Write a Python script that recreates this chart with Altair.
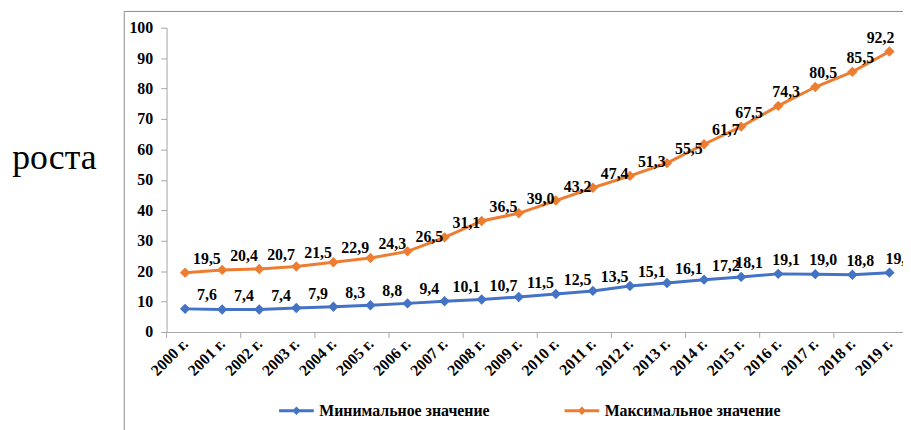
import json
import altair as alt
import pandas as pd

years = ["2000 г.", "2001 г.", "2002 г.", "2003 г.", "2004 г.", "2005 г.", "2006 г.",
         "2007 г.", "2008 г.", "2009 г.", "2010 г.", "2011 г.", "2012 г.", "2013 г.",
         "2014 г.", "2015 г.", "2016 г.", "2017 г.", "2018 г.", "2019 г."]
min_values = [7.6, 7.4, 7.4, 7.9, 8.3, 8.8, 9.4, 10.1, 10.7, 11.5, 12.5, 13.5, 15.1,
              16.1, 17.2, 18.1, 19.1, 19.0, 18.8, 19.5]
max_values = [19.5, 20.4, 20.7, 21.5, 22.9, 24.3, 26.5, 31.1, 36.5, 39.0, 43.2, 47.4,
              51.3, 55.5, 61.7, 67.5, 74.3, 80.5, 85.5, 92.2]
series_names = ["Минимальное значение", "Максимальное значение"]
series_colors = ["#4472C4", "#ED7D31"]
y_ticks = [0, 10, 20, 30, 40, 50, 60, 70, 80, 90, 100]
boundary_ticks = [-0.5, 1.5, 3.5, 5.5, 7.5, 9.5, 11.5, 13.5, 15.5, 17.5, 19.5]
side_text = ["роста"]

FONT = "Liberation Serif"
AXIS_GREY = "#a6a6a6"

rows = []
for s, (name, vals) in enumerate(zip(series_names, [min_values, max_values])):
    for i, (yr, v) in enumerate(zip(years, vals)):
        rows.append({"idx": i, "s": s, "year": yr, "series": name, "value": v,
                     "label": f"{v:.1f}".replace(".", ",")})
df = pd.DataFrame(rows)

x_scale = alt.Scale(domain=[-0.5, 19.5], range=[0, 748], nice=False, zero=False)
x_axis = alt.Axis(
    values=list(range(len(years))),
    labelExpr=f"{json.dumps(years, ensure_ascii=False)}[datum.value]",
    labelAngle=-45, labelAlign="right", labelBaseline="middle",
    labelPadding=9, ticks=False, grid=False, domain=True, domainColor=AXIS_GREY,
    labelFont=FONT, labelFontSize=16, labelFontWeight="bold", labelColor="black",
    labelOverlap=False, labelFlush=False, labelBound=False, title=None,
)
x_enc = alt.X("idx:Q", scale=x_scale, axis=x_axis)
y_enc = alt.Y(
    "value:Q",
    scale=alt.Scale(domain=[0, 100], nice=False, zero=True),
    axis=alt.Axis(values=y_ticks, grid=False, tickSize=6, tickColor=AXIS_GREY,
                  domainColor=AXIS_GREY, labelPadding=8, labelFont=FONT,
                  labelFontSize=16, labelFontWeight="bold", labelColor="black",
                  title=None),
)

legend = alt.Legend(
    title=None, orient="none", legendX=112, legendY=367, direction="horizontal",
    symbolType="M-1,0L1,0M0,-0.12L0.12,0L0,0.12L-0.12,0Z", symbolSize=1225,
    symbolStrokeWidth=3, labelFont=FONT, labelFontSize=16, labelFontWeight="bold",
    labelColor="black", labelOffset=4, labelLimit=400, columnPadding=68,
)
color_enc = alt.Color("series:N", scale=alt.Scale(domain=series_names, range=series_colors),
                      legend=legend)

lines = alt.Chart(df).mark_line(
    strokeWidth=3,
    point=alt.OverlayMarkDef(shape="diamond", size=110, filled=True),
).encode(x=x_enc, y=y_enc, color=color_enc, detail="series:N")


def label_layer(filter_expr, dx):
    return alt.Chart(df).transform_filter(filter_expr).mark_text(
        dx=dx, dy=-14, font=FONT, fontSize=16, fontWeight="bold", color="black",
        align="center", baseline="middle",
    ).encode(x=x_enc, y=y_enc, text="label:N")


labels_early = label_layer("datum.idx <= 14", 22)
labels_late = label_layer("datum.idx >= 15 && datum.idx <= 18", 8)
labels_last_max = label_layer("datum.idx == 19 && datum.s == 1", -9)
labels_last_min = label_layer("datum.idx == 19 && datum.s == 0", 10)

ticks = alt.Chart(pd.DataFrame({"idx": boundary_ticks})).mark_rule(
    color=AXIS_GREY, strokeWidth=1
).encode(x=x_enc, y=alt.value(307), y2=alt.value(313))

frame = alt.Chart(pd.DataFrame({"k": [0]})).mark_rect(
    fillOpacity=0, stroke="#8c8c8c", strokeWidth=1
).encode(x=alt.value(-42.7), x2=alt.value(2000), y=alt.value(-16.4), y2=alt.value(2000))

side = alt.Chart(pd.DataFrame({"t": side_text})).mark_text(
    align="left", baseline="alphabetic", font=FONT, fontSize=36, color="black"
).encode(text="t:N", x=alt.value(-155.7), y=alt.value(142.3))

chart = alt.layer(frame, side, ticks, lines, labels_early, labels_late,
                  labels_last_max, labels_last_min).properties(
    width=743, height=307,
    autosize=alt.AutoSizeParams(type="none"),
    padding={"left": 160, "top": 18, "right": 0, "bottom": 97},
    background="white",
).configure_view(stroke=None)

chart.save("out.html", embed_options={"renderer": "svg", "actions": False})
